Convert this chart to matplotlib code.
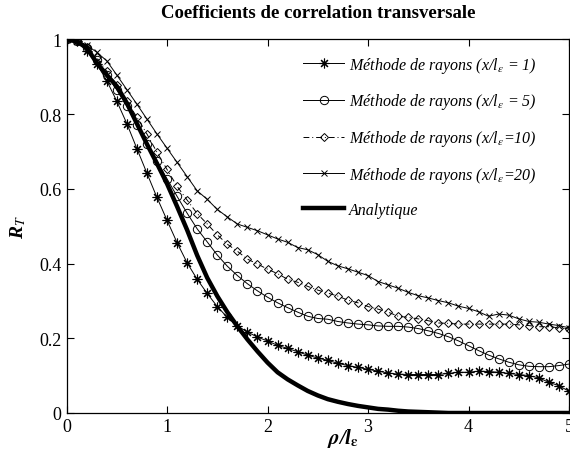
import matplotlib
matplotlib.use("Agg")
import matplotlib.pyplot as plt

plt.rcParams["font.family"] = ["Liberation Serif", "DejaVu Serif"]
plt.rcParams["mathtext.fontset"] = "stix"

# rho / l_eps, one sample every 0.1
rho = [i / 10 for i in range(51)]

# ray method, x/l_eps = 1
r_x1 = [1.0, 0.995, 0.97, 0.935, 0.89, 0.835, 0.775, 0.708, 0.642, 0.577,
        0.516, 0.456, 0.402, 0.358, 0.32, 0.285, 0.256, 0.233, 0.217, 0.203,
        0.193, 0.181, 0.173, 0.164, 0.155, 0.147, 0.141, 0.133, 0.127, 0.122,
        0.117, 0.112, 0.107, 0.104, 0.103, 0.103, 0.103, 0.103, 0.106, 0.109,
        0.109, 0.112, 0.111, 0.109, 0.106, 0.103, 0.1, 0.094, 0.082, 0.073,
        0.058]

# ray method, x/l_eps = 5
r_x5 = [1.0, 0.997, 0.978, 0.945, 0.905, 0.865, 0.821, 0.77, 0.721, 0.674,
        0.627, 0.58, 0.535, 0.493, 0.458, 0.423, 0.393, 0.368, 0.346, 0.327,
        0.31, 0.295, 0.282, 0.27, 0.259, 0.253, 0.251, 0.245, 0.241, 0.238,
        0.236, 0.233, 0.232, 0.232, 0.23, 0.226, 0.22, 0.213, 0.204, 0.193,
        0.18, 0.167, 0.155, 0.145, 0.136, 0.129, 0.125, 0.124, 0.124, 0.127,
        0.131]

# ray method, x/l_eps = 10
r_x10 = [1.0, 0.997, 0.98, 0.952, 0.915, 0.878, 0.835, 0.792, 0.747, 0.698,
         0.652, 0.607, 0.57, 0.534, 0.506, 0.477, 0.452, 0.433, 0.412, 0.399,
         0.385, 0.373, 0.358, 0.35, 0.339, 0.329, 0.321, 0.313, 0.302, 0.295,
         0.285, 0.278, 0.27, 0.259, 0.256, 0.252, 0.247, 0.241, 0.24, 0.238,
         0.238, 0.238, 0.238, 0.238, 0.238, 0.236, 0.234, 0.231, 0.231, 0.228,
         0.225]

# ray method, x/l_eps = 20
r_x20 = [1.0, 0.998, 0.985, 0.966, 0.943, 0.905, 0.866, 0.827, 0.787, 0.747,
         0.709, 0.671, 0.633, 0.595, 0.572, 0.545, 0.525, 0.506, 0.497, 0.488,
         0.477, 0.466, 0.457, 0.443, 0.437, 0.424, 0.406, 0.394, 0.386, 0.377,
         0.368, 0.352, 0.343, 0.334, 0.323, 0.314, 0.308, 0.301, 0.295, 0.286,
         0.28, 0.271, 0.259, 0.265, 0.262, 0.252, 0.245, 0.243, 0.238, 0.234,
         0.228]

# analytic result
r_ana = [1.0, 0.995, 0.978, 0.938, 0.905, 0.875, 0.83, 0.775, 0.72, 0.668,
         0.614, 0.553, 0.49, 0.422, 0.362, 0.313, 0.27, 0.232, 0.197, 0.165,
         0.135, 0.109, 0.09, 0.074, 0.059, 0.047, 0.037, 0.03, 0.024, 0.019,
         0.015, 0.011, 0.009, 0.006, 0.004, 0.003, 0.002, 0.001, 0.0, 0.0,
         0.0, 0.0, 0.0, 0.0, 0.0, 0.0, 0.0, 0.0, 0.0, 0.0,
         0.0]

labels = [r"Méthode de rayons (x/l$_{\varepsilon}$ = 1)",
          r"Méthode de rayons (x/l$_{\varepsilon}$ = 5)",
          r"Méthode de rayons (x/l$_{\varepsilon}$=10)",
          r"Méthode de rayons (x/l$_{\varepsilon}$=20)",
          "Analytique"]

# eight-armed asterisk marker (plus and cross overlaid)
star = (8, 2, 0)

fig = plt.figure(figsize=(5.70, 4.52), dpi=100)
ax = fig.add_axes([0.1167, 0.0841, 0.8816, 0.8263])

ax.plot(rho, r_x1, "k-", lw=0.7, marker=star, ms=7, mew=0.8, label=labels[0])
ax.plot(rho, r_x5, "k-", lw=0.7, marker="o", ms=6, mfc="none", mew=0.7,
        label=labels[1])
ax.plot(rho, r_x10, color="k", lw=0.7, dashes=(6, 3, 1, 3), marker="D",
        ms=4.2, mfc="none", mew=0.7, label=labels[2])
ax.plot(rho, r_x20, "k-", lw=0.7, marker="x", ms=5, mew=0.7, label=labels[3])
ax.plot(rho, r_ana, "k-", lw=3.2, label=labels[4])

ax.set_xlim(0, 5)
ax.set_ylim(0, 1)
ax.set_xticks([0, 1, 2, 3, 4, 5])
ax.set_yticks([0, 0.2, 0.4, 0.6, 0.8, 1])
ax.set_yticklabels(["0", "0.2", "0.4", "0.6", "0.8", "1"])
ax.tick_params(direction="in", top=True, right=True, labelsize=13,
               length=5, width=0.8)
for s in ax.spines.values():
    s.set_linewidth(0.9)

ax.set_title("Coefficients de correlation transversale", fontsize=13.5,
             fontweight="bold", pad=16)
ax.set_xlabel(r"$\boldsymbol{\rho}$/l$_{\boldsymbol{\varepsilon}}$",
              fontsize=15, fontweight="bold", style="italic")
ax.xaxis.set_label_coords(0.55, -0.035)
ax.set_ylabel(r"R$_T$", fontsize=14, fontweight="bold", style="italic",
              labelpad=8)

leg = ax.legend(loc="upper right", bbox_to_anchor=(0.955, 0.985),
                frameon=False, numpoints=1, handlelength=2.6,
                handletextpad=0.3, labelspacing=1.05, borderaxespad=0.2,
                prop={"style": "italic", "size": 11.5})

fig.savefig("out.png", dpi=100)
